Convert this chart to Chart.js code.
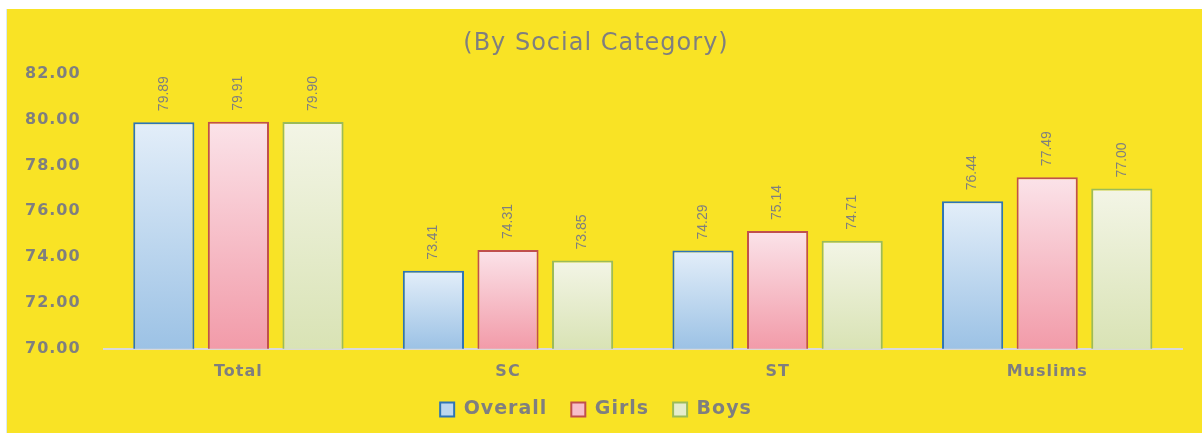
<!DOCTYPE html>
<html>
<head>
<meta charset="utf-8">
<script src="https://cdn.jsdelivr.net/npm/chart.js@4.4.1/dist/chart.umd.min.js"></script>
<style>
  html, body { margin: 0; padding: 0; background: #ffffff; }
  #wrap { width: 1202px; height: 433px; position: relative; }
</style>
</head>
<body>
<div id="wrap"><canvas id="gerChart" width="1202" height="433"></canvas></div>
<script>
const categories = ["Total", "SC", "ST", "Muslims"];
const overall = [79.89, 73.41, 74.29, 76.44];
const girls = [79.91, 74.31, 75.14, 77.49];
const boys = [79.90, 73.85, 74.71, 77.00];
const yTicks = [70, 72, 74, 76, 78, 80, 82];

const textGrey = "#7f7f7f";
const xAxisTrim = 10;

// top / bottom of each bar's gradient, plus border
const looks = [
  { top: "#e3eef9", bottom: "#9cc2e5", border: "#2e75b6", box: "#bdd7ee" },
  { top: "#fbe3e9", bottom: "#f29ba9", border: "#c0504d", box: "#f7bfc9" },
  { top: "#f3f5e6", bottom: "#d9e3b5", border: "#9bbb59", box: "#e6edcc" }
];

function barFill(i){
  return function(ctx){
    const chart = ctx.chart;
    const area = chart.chartArea;
    if(!area || ctx.raw === undefined) return looks[i].box;
    const y = chart.scales.y;
    const top = y.getPixelForValue(ctx.raw);
    const bottom = y.getPixelForValue(y.min);
    const g = chart.ctx.createLinearGradient(0, top, 0, bottom);
    g.addColorStop(0, looks[i].top);
    g.addColorStop(1, looks[i].bottom);
    return g;
  };
}

// the source text is drawn a little wide, so space the letters out
function spaceOut(chart){
  chart.ctx.letterSpacing = "1px";
}

const backdrop = {
  id: "backdrop",
  beforeUpdate: spaceOut,
  beforeLayout: spaceOut,
  afterLayout(chart){
    // x labels are clipped to the axis box, give them their room back
    chart.scales.x.bottom += xAxisTrim;
  },
  beforeDraw(chart){
    spaceOut(chart);
    const c = chart.ctx;
    c.save();
    c.fillStyle = "#ffffff";
    c.fillRect(0, 0, chart.width, chart.height);
    c.fillStyle = "#dbeaf0";
    c.fillRect(6, 9, 1, chart.height - 9);
    c.fillStyle = "#f9e325";
    c.fillRect(7, 9, chart.width - 7, chart.height - 9);
    c.restore();
  }
};

const barLabels = {
  id: "barLabels",
  afterDatasetsDraw(chart){
    const c = chart.ctx;
    c.save();
    c.letterSpacing = "0px";
    c.font = "14px 'Liberation Sans Narrow', 'Liberation Sans', Arial, sans-serif";
    c.fillStyle = textGrey;
    c.textAlign = "left";
    c.textBaseline = "middle";
    chart.data.datasets.forEach(function(ds, di){
      const meta = chart.getDatasetMeta(di);
      meta.data.forEach(function(bar, i){
        c.save();
        c.translate(bar.x, bar.y - 11);
        c.rotate(-Math.PI / 2);
        c.fillText(ds.data[i].toFixed(2), 0, 0);
        c.restore();
      });
    });
    c.restore();
  }
};

const datasets = [
  { label: "Overall", data: overall },
  { label: "Girls", data: girls },
  { label: "Boys", data: boys }
].map(function(d, i){
  return Object.assign(d, {
    backgroundColor: barFill(i),
    borderColor: looks[i].border,
    borderWidth: 2,
    borderSkipped: "bottom",
    barPercentage: 0.82,
    categoryPercentage: 0.83
  });
});

new Chart(document.getElementById("gerChart"), {
  type: "bar",
  data: { labels: categories, datasets: datasets },
  plugins: [backdrop, barLabels],
  options: {
    responsive: false,
    animation: false,
    layout: { padding: { left: 10, right: 20, top: 17, bottom: 4 } },
    plugins: {
      title: {
        display: true,
        text: "(By Social Category)",
        color: textGrey,
        font: { family: "'DejaVu Sans', sans-serif", size: 24, weight: "normal" },
        padding: { top: 12, bottom: 16 }
      },
      legend: {
        position: "bottom",
        labels: {
          color: textGrey,
          font: { family: "'DejaVu Sans', sans-serif", size: 19, weight: "bold" },
          boxWidth: 14,
          boxHeight: 14,
          padding: 24,
          generateLabels: function(chart){
            return chart.data.datasets.map(function(ds, i){
              return {
                text: ds.label,
                fillStyle: looks[i].box,
                strokeStyle: looks[i].border,
                fontColor: textGrey,
                lineWidth: 2,
                datasetIndex: i
              };
            });
          }
        }
      },
      tooltip: { enabled: false }
    },
    scales: {
      x: {
        grid: { display: false },
        border: { display: true, color: "#d9d9d9", width: 2 },
        afterFit: function(axis){ axis.height -= xAxisTrim; },
        ticks: {
          color: textGrey,
          padding: 5,
          font: { family: "'DejaVu Sans', sans-serif", size: 16, weight: "bold" }
        }
      },
      y: {
        min: yTicks[0],
        max: yTicks[yTicks.length - 1],
        afterBuildTicks: function(axis){
          axis.ticks = yTicks.map(function(v){ return { value: v }; });
        },
        grid: { display: false },
        border: { display: false },
        ticks: {
          color: textGrey,
          padding: 15,
          font: { family: "'DejaVu Sans', sans-serif", size: 16, weight: "bold" },
          callback: function(v){ return Number(v).toFixed(2); }
        }
      }
    }
  }
});
</script>
</body>
</html>
